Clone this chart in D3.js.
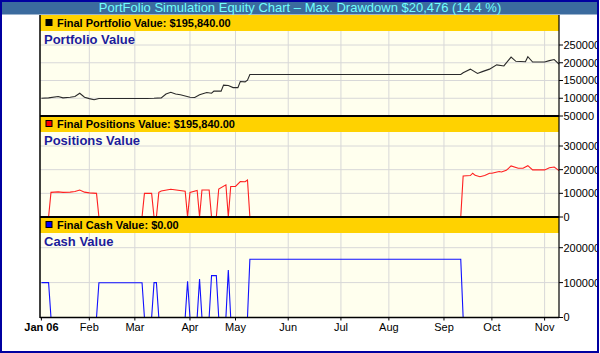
<!DOCTYPE html>
<html lang="en">
<head>
<meta charset="UTF-8">
<title>PortFolio Simulation Equity Chart</title>
<script src="https://d3js.org/d3.v7.min.js"></script>
<style>
    body { margin: 0; background: #fff; }
    svg { display: block; font-family: "Liberation Sans", Arial, sans-serif; }
</style>
</head>
<body>
<div id="chart"></div>
<script>
    // ---- data (x = trading day index from 3 Jan 2006) ----
    const titleText = "PortFolio Simulation Equity Chart \u2013 Max. Drawdown $20,476 (14.4 %)";

    const monthLabels = ["Jan 06", "Feb", "Mar", "Apr", "May", "Jun", "Jul", "Aug", "Sep", "Oct", "Nov"];
    const monthDays = [0, 20, 39, 62, 81, 103, 125, 145, 168, 188, 210];

    const portfolioDays = [0, 3, 7, 9, 12, 14, 16, 18, 20, 22, 24, 44, 47, 50, 52, 54, 56, 58, 62, 64, 66, 69, 71, 72, 75, 76, 78, 80, 82, 83, 85, 86, 87,
        175, 176, 179, 182, 184, 187, 190, 193, 196, 198, 202, 203, 205, 210, 212, 214, 216];
    const portfolioValues = [100000, 101000, 105000, 101000, 103000, 105000, 114000, 103000, 99000, 96000, 99500, 99500, 100000, 101000, 112000, 117000, 112000, 110000,
        103000, 102000, 110000, 116000, 114000, 120000, 120000, 137000, 136000, 130000, 130000, 147000, 146000, 151000, 167000,
        167000, 172000, 182000, 170000, 175000, 182000, 194000, 191000, 216000, 204000, 203000, 217000, 202000, 202000, 206000, 209000, 195840];

    const positionsDays = [0, 3, 4, 7, 9, 12, 14, 16, 18, 20, 23, 24, 42, 43, 46, 47, 48, 49, 50, 54, 60, 61, 62, 65, 66, 67, 70, 71, 73, 74, 77, 78, 79, 81, 83, 85, 86, 87,
        175, 176, 179, 180, 181, 183, 185, 187, 188, 191, 192, 194, 196, 199, 201, 203, 205, 210, 212, 214, 216];
    const positionsValues = [0, 0, 104000, 106000, 104000, 105000, 108000, 114000, 105000, 102000, 100000, 0, 0, 100000, 100000, 0, 0, 104000, 110000, 117000,
        109000, 0, 104000, 112000, 0, 114000, 114000, 0, 0, 118000, 136000, 0, 129000, 129000, 150000, 149000, 156000, 0,
        0, 173000, 175000, 185000, 176000, 170000, 175000, 185000, 185000, 192000, 190000, 197000, 216000, 206000, 206000, 217000, 199000, 199000, 208000, 211000, 195840];

    const cashDays = [0, 3, 4, 23, 24, 42, 43, 46, 47, 48, 49, 60, 61, 62, 65, 66, 67, 70, 71, 73, 74, 77, 78, 79, 86, 87, 175, 176, 216];
    const cashValues = [100000, 100000, 0, 0, 99500, 99500, 0, 0, 100000, 100000, 0, 0, 104000, 0, 0, 110000, 0, 0, 120000, 120000, 0, 0, 136000, 0, 0, 167000, 167000, 0, 0];

    const portfolioTicks = [50000, 100000, 150000, 200000, 250000];
    const positionsTicks = [0, 100000, 200000, 300000];
    const cashTicks = [0, 100000, 200000];

    // ---- layout ----
    const width = 600, height = 353;
    const plotLeft = 40, plotRight = 559;
    const headerH = 16;

    const x = d3.scaleLinear().domain([0, 216]).range([41.4, plotRight]);

    const panels = [
        { header: "Final Portfolio Value: $195,840.00", label: "Portfolio Value", marker: "#000", stroke: "#2a2a2a",
          days: portfolioDays, values: portfolioValues, ticks: portfolioTicks, top: 15, bottom: 116,
          y: d3.scaleLinear().domain([50000, 250000]).range([116, 45]) },
        { header: "Final Positions Value: $195,840.00", label: "Positions Value", marker: "#ff0000", stroke: "#ff2020",
          days: positionsDays, values: positionsValues, ticks: positionsTicks, top: 116, bottom: 217,
          y: d3.scaleLinear().domain([0, 300000]).range([217, 146]) },
        { header: "Final Cash Value: $0.00", label: "Cash Value", marker: "#0000ff", stroke: "#1010ff",
          days: cashDays, values: cashValues, ticks: cashTicks, top: 217, bottom: 317.5,
          y: d3.scaleLinear().domain([0, 200000]).range([317.5, 247.7]) }
    ];

    const svg = d3.select("#chart")
        .append("svg")
        .attr("width", width)
        .attr("height", height);

    svg.append("rect").attr("width", width).attr("height", height).attr("fill", "#fff");

    // Title bar
    svg.append("rect")
        .attr("x", 0).attr("y", 0)
        .attr("width", width).attr("height", 14.5)
        .attr("fill", "#3b6b9e");
    svg.append("text")
        .attr("x", width / 2).attr("y", 12)
        .attr("text-anchor", "middle")
        .attr("fill", "#70ffff")
        .style("font-size", "13px")
        .text(titleText);

    panels.forEach(function (p, i) {
        const plotTop = p.top + headerH;

        // plot background
        svg.append("rect")
            .attr("x", plotLeft).attr("y", plotTop)
            .attr("width", plotRight - plotLeft).attr("height", p.bottom - plotTop)
            .attr("fill", "#ffffee");

        // horizontal grid
        svg.append("g").selectAll("line")
            .data(p.ticks.filter(function (t) { return p.y(t) > plotTop && p.y(t) < p.bottom - 1; }))
            .enter().append("line")
            .attr("x1", plotLeft).attr("x2", plotRight)
            .attr("y1", function (t) { return p.y(t); })
            .attr("y2", function (t) { return p.y(t); })
            .attr("stroke", "#d8d8d8");

        // vertical grid at month starts
        svg.append("g").selectAll("line")
            .data(monthDays.slice(1))
            .enter().append("line")
            .attr("x1", function (d) { return x(d); })
            .attr("x2", function (d) { return x(d); })
            .attr("y1", plotTop).attr("y2", p.bottom)
            .attr("stroke", "#d8d8d8");

        // series line
        const line = d3.line()
            .x(function (d, k) { return x(p.days[k]); })
            .y(function (d) { return p.y(d); });
        svg.append("path")
            .datum(p.values)
            .attr("d", line)
            .attr("fill", "none")
            .attr("stroke", p.stroke)
            .attr("stroke-width", 1.1);

        // header band
        svg.append("rect")
            .attr("x", plotLeft).attr("y", p.top)
            .attr("width", plotRight - plotLeft).attr("height", headerH)
            .attr("fill", "#ffd200");
        if (i > 0) {
            svg.append("line")
                .attr("x1", plotLeft).attr("x2", plotRight)
                .attr("y1", p.top).attr("y2", p.top)
                .attr("stroke", "#000").attr("stroke-width", 2);
        }
        svg.append("rect")
            .attr("x", 46).attr("y", p.top + 4.5)
            .attr("width", 6).attr("height", 6)
            .attr("fill", p.marker)
            .attr("stroke", "#000").attr("stroke-width", 1);
        svg.append("text")
            .attr("x", 57).attr("y", p.top + 11.5)
            .style("font-size", "11px").style("font-weight", "bold")
            .attr("fill", "#000")
            .text(p.header);

        // panel label
        svg.append("text")
            .attr("x", 44).attr("y", plotTop + 13)
            .style("font-size", "13px").style("font-weight", "bold")
            .attr("fill", "#1c1c9c")
            .text(p.label);

        // right axis
        const axis = svg.append("g");
        axis.selectAll("line")
            .data(p.ticks)
            .enter().append("line")
            .attr("x1", plotRight).attr("x2", plotRight + 4)
            .attr("y1", function (t) { return p.y(t); })
            .attr("y2", function (t) { return p.y(t); })
            .attr("stroke", "#000");
        axis.selectAll("text")
            .data(p.ticks)
            .enter().append("text")
            .attr("x", plotRight + 4.5)
            .attr("y", function (t) { return p.y(t); })
            .attr("dy", "0.36em")
            .style("font-size", "11px")
            .attr("fill", "#000")
            .text(function (t) { return t; });
    });

    // bottom axis
    svg.append("line")
        .attr("x1", plotLeft).attr("x2", plotRight)
        .attr("y1", 317.5).attr("y2", 317.5)
        .attr("stroke", "#000").attr("stroke-width", 1.5);
    svg.append("g").selectAll("line")
        .data(monthDays)
        .enter().append("line")
        .attr("x1", function (d) { return x(d); })
        .attr("x2", function (d) { return x(d); })
        .attr("y1", 317.5).attr("y2", 320.5)
        .attr("stroke", "#000");
    svg.append("g").selectAll("text")
        .data(monthLabels)
        .enter().append("text")
        .attr("x", function (d, k) { return x(monthDays[k]); })
        .attr("y", 331)
        .attr("text-anchor", "middle")
        .style("font-size", "11px")
        .style("font-weight", function (d, k) { return k === 0 ? "bold" : "normal"; })
        .attr("fill", "#000")
        .text(function (d) { return d; });

    // left and right frame lines
    svg.append("line")
        .attr("x1", plotLeft).attr("x2", plotLeft)
        .attr("y1", 15).attr("y2", 318)
        .attr("stroke", "#000").attr("stroke-width", 1.5);
    svg.append("line")
        .attr("x1", plotRight).attr("x2", plotRight)
        .attr("y1", 15).attr("y2", 318)
        .attr("stroke", "#000").attr("stroke-width", 1.2);

    // outer border
    svg.append("rect")
        .attr("x", 598.5).attr("y", 0).attr("width", 2).attr("height", height)
        .attr("fill", "#fff");
    svg.append("rect")
        .attr("x", 1).attr("y", 1)
        .attr("width", 597).attr("height", 351)
        .attr("fill", "none")
        .attr("stroke", "#0000a0").attr("stroke-width", 2);
</script>
</body>
</html>
